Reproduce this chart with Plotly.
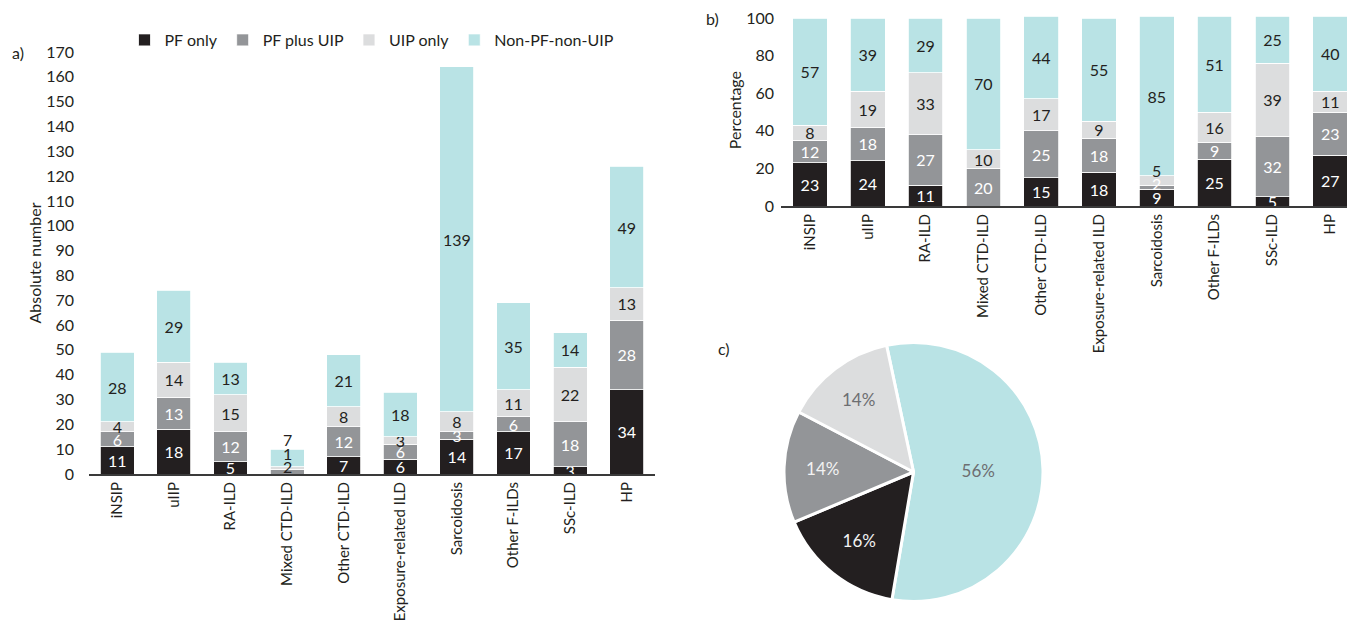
import plotly.graph_objects as go

# ---------------- data ----------------
categories = ["iNSIP", "uIIP", "RA-ILD", "Mixed CTD-ILD", "Other CTD-ILD",
              "Exposure-related ILD", "Sarcoidosis", "Other F-ILDs", "SSc-ILD", "HP"]
series_names = ["PF only", "PF plus UIP", "UIP only", "Non-PF-non-UIP"]

abs_pf_only = [11, 18, 5, 0, 7, 6, 14, 17, 3, 34]
abs_pf_plus_uip = [6, 13, 12, 2, 12, 6, 3, 6, 18, 28]
abs_uip_only = [4, 14, 15, 1, 8, 3, 8, 11, 22, 13]
abs_non = [28, 29, 13, 7, 21, 18, 139, 35, 14, 49]

pct_pf_only = [23, 24, 11, 0, 15, 18, 9, 25, 5, 27]
pct_pf_plus_uip = [12, 18, 27, 20, 25, 18, 2, 9, 32, 23]
pct_uip_only = [8, 19, 33, 10, 17, 9, 5, 16, 39, 11]
pct_non = [57, 39, 29, 70, 44, 55, 85, 51, 25, 40]

pie_labels = ["Non-PF-non-UIP", "PF only", "PF plus UIP", "UIP only"]
pie_values = [56, 16, 14, 14]

abs_ticks = list(range(0, 171, 10))
pct_ticks = list(range(0, 101, 20))

# ---------------- styles ----------------
COLORS = {"PF only": "#231f20", "PF plus UIP": "#939598",
          "UIP only": "#dcddde", "Non-PF-non-UIP": "#b9e3e5"}
TEXTCOL = {"PF only": "white", "PF plus UIP": "white",
           "UIP only": "#231f20", "Non-PF-non-UIP": "#231f20"}
FONT = "Lato"
W, H = 1347, 621


def fx(px):
    return px / W


def fy(py):
    return 1 - py / H


fig = go.Figure()

abs_series = [abs_pf_only, abs_pf_plus_uip, abs_uip_only, abs_non]
pct_series = [pct_pf_only, pct_pf_plus_uip, pct_uip_only, pct_non]

# labels of tiny segments placed near their segment top, with a pixel shift (as in the reference)
abs_offsets = {(3, 1): -17, (3, 2): -4, (3, 3): 10}
pct_offsets = {(6, 1): 2, (6, 2): 5}

annotations = []


def add_stack(series_list, xa, ya, offsets, showlegend, outside_labels):
    totals = [sum(v) for v in zip(*series_list)]
    for si, (name, vals) in enumerate(zip(series_names, series_list)):
        texts = []
        for ci, v in enumerate(vals):
            if v == 0 or (ci, si) in offsets:
                texts.append("")
            else:
                texts.append(str(v))
        fig.add_trace(go.Bar(
            x=categories, y=vals, name=name, xaxis=xa, yaxis=ya,
            marker=dict(color=COLORS[name], line=dict(color="white", width=0.8)),
            text=texts, textposition="inside", insidetextanchor="middle",
            textangle=0, constraintext="none",
            textfont=dict(family=FONT, size=16, color=TEXTCOL[name]),
            showlegend=showlegend, hoverinfo="skip",
        ))
        for (ci, s), shift in offsets.items():
            if s == si:
                if outside_labels:
                    ytop, col = totals[ci], "#231f20"
                else:
                    ytop = sum(series_list[k][ci] for k in range(si + 1))
                    col = TEXTCOL[name]
                annotations.append(dict(
                    x=categories[ci], y=ytop, xref=xa, yref=ya, text=str(vals[ci]),
                    showarrow=False, yshift=shift,
                    font=dict(family=FONT, size=16, color=col)))


add_stack(abs_series, "x", "y", abs_offsets, True, True)
add_stack(pct_series, "x2", "y2", pct_offsets, False, False)

fig.add_trace(go.Pie(
    labels=pie_labels, values=pie_values, sort=False, direction="clockwise",
    rotation=-12, domain=dict(x=[fx(784), fx(1043)], y=[fy(601.5), fy(342.5)]),
    marker=dict(colors=[COLORS[l] for l in pie_labels], line=dict(color="white", width=3)),
    textinfo="percent", texttemplate="%{percent:.0%}", textposition="inside",
    insidetextorientation="horizontal",
    textfont=dict(family=FONT, size=17, color=["#6d6e71", "#f2f2f2", "#f2f2f2", "#6d6e71"]),
    showlegend=False, hoverinfo="skip",
))

axis_line = dict(showline=True, linecolor="#3a3a3a", linewidth=2)
tickfont_cat = dict(family=FONT, size=15, color="#231f20")
tickfont_num = dict(family=FONT, size=16, color="#231f20")

fig.update_layout(
    width=W, height=H, margin=dict(l=0, r=0, t=0, b=0),
    paper_bgcolor="white", plot_bgcolor="white",
    barmode="stack", bargap=0.4,
    font=dict(family=FONT, color="#231f20"),
    xaxis=dict(domain=[fx(89), fx(655)], anchor="y", type="category",
               tickangle=-90, tickfont=tickfont_cat, ticks="", automargin=False,
               range=[-0.5, 9.5], **axis_line),
    yaxis=dict(domain=[fy(474), fy(52)], anchor="x", range=[0, 170],
               tickvals=abs_ticks, tickfont=tickfont_num, showgrid=False,
               zeroline=False, showline=False, ticks="", ticklabelstandoff=14,
               automargin=False,
               title=dict(text="Absolute number", font=dict(family=FONT, size=16), standoff=0)),
    xaxis2=dict(domain=[fx(781), 1.0], anchor="y2", type="category",
                tickangle=-90, tickfont=tickfont_cat, ticks="", automargin=False,
                range=[-0.5, 9.29], **axis_line),
    yaxis2=dict(domain=[fy(206), fy(206 - 102 * 1.88)], anchor="x2", range=[0, 102],
                tickvals=pct_ticks, tickfont=tickfont_num, showgrid=False,
                zeroline=False, showline=False, ticks="", ticklabelstandoff=6,
                automargin=False,
                title=dict(text="Percentage", font=dict(family=FONT, size=16), standoff=0)),
    legend=dict(orientation="h", x=fx(372), xanchor="center", y=fy(40), yanchor="middle",
                font=dict(family=FONT, size=16, color="#231f20"), itemwidth=30,
                traceorder="normal", bgcolor="rgba(0,0,0,0)"),
)

panel_labels = [("a)", 18, 52), ("b)", 712, 18), ("c)", 724, 348)]
for t, px, py in panel_labels:
    annotations.append(dict(text=t, x=fx(px), y=fy(py), xref="paper", yref="paper",
                            showarrow=False, xanchor="center", yanchor="middle",
                            font=dict(family=FONT, size=16, color="#231f20")))
fig.update_layout(annotations=annotations)

fig.write_html("out.html")
